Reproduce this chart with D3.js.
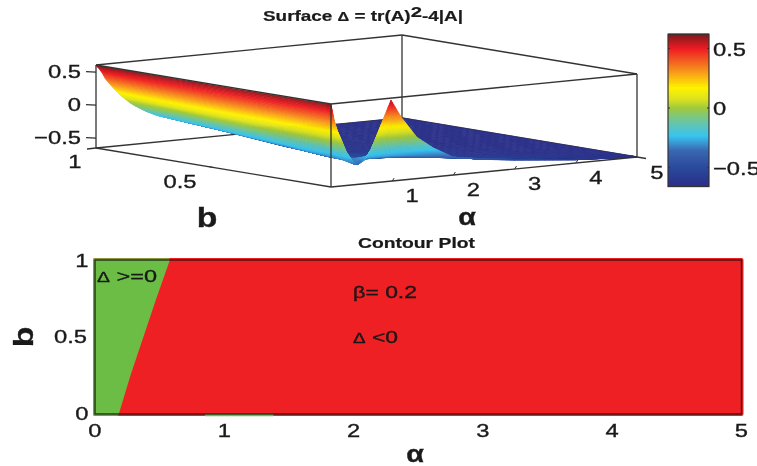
<!DOCTYPE HTML>
<html>
<head>
<meta charset="utf-8">
<title>Surface and contour plot</title>
<style>
	html, body { margin:0; padding:0; background:#fff; }
	svg { display:block; filter:blur(.45px); }
	text { font-family:"Liberation Sans", Arial, sans-serif; fill:#1a1a1a; }
</style>
</head>

<body>
<div id="chart"></div>

	<script src="https://cdnjs.cloudflare.com/ajax/libs/d3/7.8.5/d3.min.js" charset="utf-8"></script>
	<script>
	// surface values, one row per b
	var alphaGrid = [0,.05,.1,.15,.25,.36,.44,.55,.64,.8,.98,1.15,1.4,1.67,2,2.5,3,4,5];
	var bGrid = [0,.02,.1,.25,.5,.75,1];
	var zRow0   = [.6,.36,.2,.09,-.14,-.30,-.35,-.29,-.18,.18,.58,.3,-.02,-.21,-.38,-.46,-.51,-.6,-.65];
	var zRow002 = [.6,.36,.2,.09,-.14,-.30,-.35,-.31,-.26,-.27,-.27,-.28,-.30,-.34,-.39,-.46,-.51,-.6,-.65];
	var zRow01  = [.6,.38,.23,.11,-.04,-.2,-.29,-.34,-.36,-.37,-.37,-.37,-.38,-.41,-.44,-.5,-.56,-.62,-.65];
	var zRow025 = [.6,.40,.27,.16,.02,-.15,-.24,-.3,-.33,-.385,-.44,-.48,-.5,-.5,-.5,-.55,-.6,-.64,-.65];
	var zRow05  = [.6,.44,.33,.22,.08,-.02,-.1,-.18,-.25,-.31,-.37,-.43,-.5,-.55,-.6,-.62,-.63,-.65,-.65];
	var zRow075 = [.6,.49,.4,.3,.16,.07,.02,-.07,-.14,-.23,-.30,-.35,-.43,-.51,-.56,-.61,-.63,-.65,-.65];
	var zRow1   = [.6,.55,.48,.39,.27,.15,.08,-.01,-.07,-.16,-.24,-.29,-.37,-.44,-.5,-.56,-.6,-.65,-.65];
	var zRows = [zRow0,zRow002,zRow01,zRow025,zRow05,zRow075,zRow1];

	// colorbar
	var cbarValues = [-.655,-.5,-.36,-.235,-.11,0,.08,.17,.31,.5,.62];
	var cbarColors = ["#2b3088","#2b4a9c","#3a67b0","#39c4f0","#6dc5a0","#a0ca3c","#dfe31f","#fff200","#f7941d","#ed1c24","#7e1a1c"];

	// contour plot, boundary of the >=0 region
	var boundaryB = [0,.25,.5,.75,1];
	var boundaryAlpha = [.17,.26,.36,.46,.565];
	var peakAlpha = [.85,1.38];

	var alphaTicks = [0,1,2,3,4,5];
	var zTicks = [-.5,0,.5];

	var svg = d3.select("#chart")
				.append("svg")
				.attr("width",757)
				.attr("height",466);

	var color = d3.scaleLinear().domain(cbarValues).range(cbarColors).clamp(true);

	// oblique projection of the box, each axis gets its own pair of scales
	var ox = 331, oy = 187;
	var ax = d3.scaleLinear().domain([0,5]).range([0,306]);
	var ay = d3.scaleLinear().domain([0,5]).range([0,-30]);
	var bx = d3.scaleLinear().domain([0,1]).range([0,-235]);
	var by = d3.scaleLinear().domain([0,1]).range([0,-39]);
	var zy = d3.scaleLinear().domain([-.65,.608]).range([0,-83]);
	var zMin = -.65, zMax = .608;

	function proj(a,b,z){
		return [ox+ax(a)+bx(b), oy+ay(a)+by(b)+zy(z)];
	}
	function seg(g,p,q,w){
		g.append("line").attr("x1",p[0]).attr("y1",p[1]).attr("x2",q[0]).attr("y2",q[1])
			.attr("stroke","#333").attr("stroke-width",w||1.3);
	}

	//back of the box, goes under the surface
	var back = svg.append("g");
	seg(back,proj(0,1,zMin),proj(5,1,zMin));
	seg(back,proj(5,1,zMin),proj(5,0,zMin));
	seg(back,proj(5,1,zMin),proj(5,1,zMax));
	seg(back,proj(0,1,zMax),proj(5,1,zMax));
	seg(back,proj(5,1,zMax),proj(5,0,zMax));
	seg(back,proj(0,1,zMin),proj(0,1,zMax));

	// surface, far cells first. each cell is cut up only so the colour runs smooth
	var surf = svg.append("g");
	var nA = 8;
	function cellPoint(i,j,u,v){
		var a = alphaGrid[i]+(alphaGrid[i+1]-alphaGrid[i])*u;
		var b = bGrid[j]+(bGrid[j+1]-bGrid[j])*v;
		var z = (zRows[j][i]*(1-u)+zRows[j][i+1]*u)*(1-v)+(zRows[j+1][i]*(1-u)+zRows[j+1][i+1]*u)*v;
		return {p:proj(a,b,z),z:z};
	}
	for(var j=bGrid.length-2;j>=0;j--){
		var nB = j==0 ? 30 : 8;
		for(var i=alphaGrid.length-2;i>=0;i--){
			for(var v=nB-1;v>=0;v--){
				for(var u=nA-1;u>=0;u--){
					var c = [cellPoint(i,j,u/nA,v/nB),cellPoint(i,j,(u+1)/nA,v/nB),
							cellPoint(i,j,(u+1)/nA,(v+1)/nB),cellPoint(i,j,u/nA,(v+1)/nB)];
					var col = color(d3.mean(c,function(d){return d.z;}));
					surf.append("path")
						.attr("d","M"+c.map(function(d){return d.p.join(",");}).join("L")+"Z")
						.attr("fill",col).attr("stroke",col).attr("stroke-width",.6);
				}
			}
		}
	}

	//front of the box
	var front = svg.append("g");
	seg(front,proj(0,1,zMin),proj(0,0,zMin));
	seg(front,proj(0,0,zMin),proj(5,0,zMin));
	seg(front,proj(0,0,zMin),proj(0,0,zMax));
	seg(front,proj(0,1,zMax),proj(0,0,zMax));
	seg(front,proj(0,0,zMax),proj(5,0,zMax));
	seg(front,proj(5,0,zMin),proj(5,0,zMax));

	// ticks on the box
	zTicks.forEach(function(t){
		var p = proj(0,1,t);
		seg(front,p,[p[0]-10,p[1]-.5]);
	});
	seg(front,proj(0,1,zMin),[proj(0,1,zMin)[0]-9,proj(0,1,zMin)[1]+1]);
	seg(front,proj(5,0,zMin),[proj(5,0,zMin)[0]+9,proj(5,0,zMin)[1]+1.5]);
	alphaTicks.slice(1,5).forEach(function(t){
		var p = proj(t,0,zMin);
		seg(front,p,[p[0]+2,p[1]-3],1);
	});
	seg(front,proj(0,.5,zMin),[proj(0,.5,zMin)[0]-5,proj(0,.5,zMin)[1]-1],1);

	// the lettering in the picture is stretched sideways, so fit it to a width
	function stretch(sel,factor,width){
		var w = sel.node().getComputedTextLength();
		sel.attr("textLength",width||w*factor).attr("lengthAdjust","spacingAndGlyphs");
		return sel;
	}
	function label(x,y,str,size,anchor,weight){
		var t = svg.append("text").attr("x",x).attr("y",y)
			.attr("font-size",size||19).attr("text-anchor",anchor||"middle")
			.attr("font-weight",weight||"normal")
			.attr("stroke","#1a1a1a").attr("stroke-width",.35)
			.text(str);
		return stretch(t,1.25);
	}

	// tick labels of the surface
	zTicks.forEach(function(t){
		var p = proj(0,1,t);
		label(81,p[1]+6,d3.format("")(t),19,"end");
	});
	label(75,168,"1");
	label(180,188,"0.5");
	label(207,227,"b",27,"middle","bold");
	alphaTicks.slice(1).forEach(function(t){
		var p = proj(t,0,zMin);
		label(p[0]+20,p[1]+(t==5?22:21),t);
	});
	label(467,225,"α",23,"middle","bold");

	// title
	var title = svg.append("text").attr("x",263).attr("y",21)
		.attr("font-size",14).attr("font-weight","bold").attr("stroke","#1a1a1a").attr("stroke-width",.2);
	title.append("tspan").text("Surface ");
	title.append("tspan").attr("font-size",12).text("Δ");
	title.append("tspan").text(" = tr(A)");
	title.append("tspan").attr("font-size",15).attr("dy",-4).text("2");
	title.append("tspan").attr("dy",4).text("-4|A|");
	stretch(title,1,200);

	// colorbar
	var cbarY = d3.scaleLinear().domain([0,.5]).range([108,48.5]);
	var cbarX = [668,709];
	var cbarTop = cbarY(.62), cbarBottom = cbarY(-.66);
	svg.append("g").selectAll("rect")
		.data(d3.range(cbarBottom,cbarTop,-1))
		.enter()
		.append("rect")
		.attr("x",cbarX[0]).attr("width",cbarX[1]-cbarX[0])
		.attr("y",function(d){ return d-1; })
		.attr("height",1.5)
		.attr("fill",function(d){ return color(cbarY.invert(d)); });
	svg.append("rect").attr("x",cbarX[0]).attr("y",cbarTop)
		.attr("width",cbarX[1]-cbarX[0]).attr("height",cbarBottom-cbarTop)
		.attr("fill","none").attr("stroke","#333").attr("stroke-width",1.2);
	zTicks.forEach(function(t){
		seg(svg,[cbarX[0],cbarY(t)],[cbarX[0]+2,cbarY(t)],1);
		seg(svg,[cbarX[1]-2,cbarY(t)],[cbarX[1],cbarY(t)],1);
		label(713,cbarY(t)+7,d3.format("")(t),19,"start");
	});

	// contour plot
	var x = d3.scaleLinear().domain([0,5]).range([95,741.5]);
	var y = d3.scaleLinear().domain([0,1]).range([414,260]);
	var regionRed = "#ee2024", regionGreen = "#6cbd45";

	var contour = svg.append("g");
	contour.append("rect")
		.attr("x",x(0)).attr("y",y(1)).attr("width",x(5)-x(0)).attr("height",y(0)-y(1))
		.attr("fill",regionRed).attr("stroke",regionRed).attr("stroke-width",4).attr("stroke-linejoin","round");
	var area = d3.area()
		.curve(d3.curveLinear)
		.y(function(d,i){ return y(boundaryB[i]); })
		.x0(x(0))
		.x1(function(d){ return x(d); });
	contour.append("path").datum(boundaryAlpha)
		.attr("d",area)
		.attr("fill",regionGreen).attr("stroke",regionGreen).attr("stroke-width",3.5).attr("stroke-linejoin","round");
	contour.append("line")
		.attr("x1",x(peakAlpha[0])).attr("x2",x(peakAlpha[1])).attr("y1",y(0)+1).attr("y2",y(0)+1)
		.attr("stroke",regionGreen).attr("stroke-width",2.5);
	contour.append("rect")
		.attr("x",x(0)).attr("y",y(1)).attr("width",x(5)-x(0)).attr("height",y(0)-y(1))
		.attr("fill","none").attr("stroke","#111").attr("stroke-width",1.4).attr("stroke-opacity",.8);

	alphaTicks.forEach(function(t){
		label(x(t),y(0)+23,t);
	});
	label(82,y(1)+7,"1");
	label(87,y(.5)+6,"0.5",19,"end");
	label(82,y(0)+6,"0");
	label(415,462,"α",23,"middle","bold");
	label(0,0,"b",27,"middle","bold").attr("transform","translate(33,337) rotate(-90)");
	stretch(svg.append("text").attr("x",358).attr("y",248)
		.attr("font-size",14).attr("font-weight","bold").attr("stroke","#1a1a1a").attr("stroke-width",.2)
		.text("Contour Plot"),1,117);

	// notes inside the plot
	function note(xp,yp,sym,symSize,rest,width){
		var t = svg.append("text").attr("x",xp).attr("y",yp).attr("font-size",17)
			.attr("stroke","#111").attr("stroke-width",.3);
		t.append("tspan").attr("font-size",symSize).text(sym);
		t.append("tspan").text(rest);
		stretch(t,1,width);
	}
	note(97,282,"Δ",14," >=0",60);
	note(353,298,"β",16,"= 0.2",64);
	note(353,343,"Δ",14," <0",45);
	</script>
</body>
</html>
